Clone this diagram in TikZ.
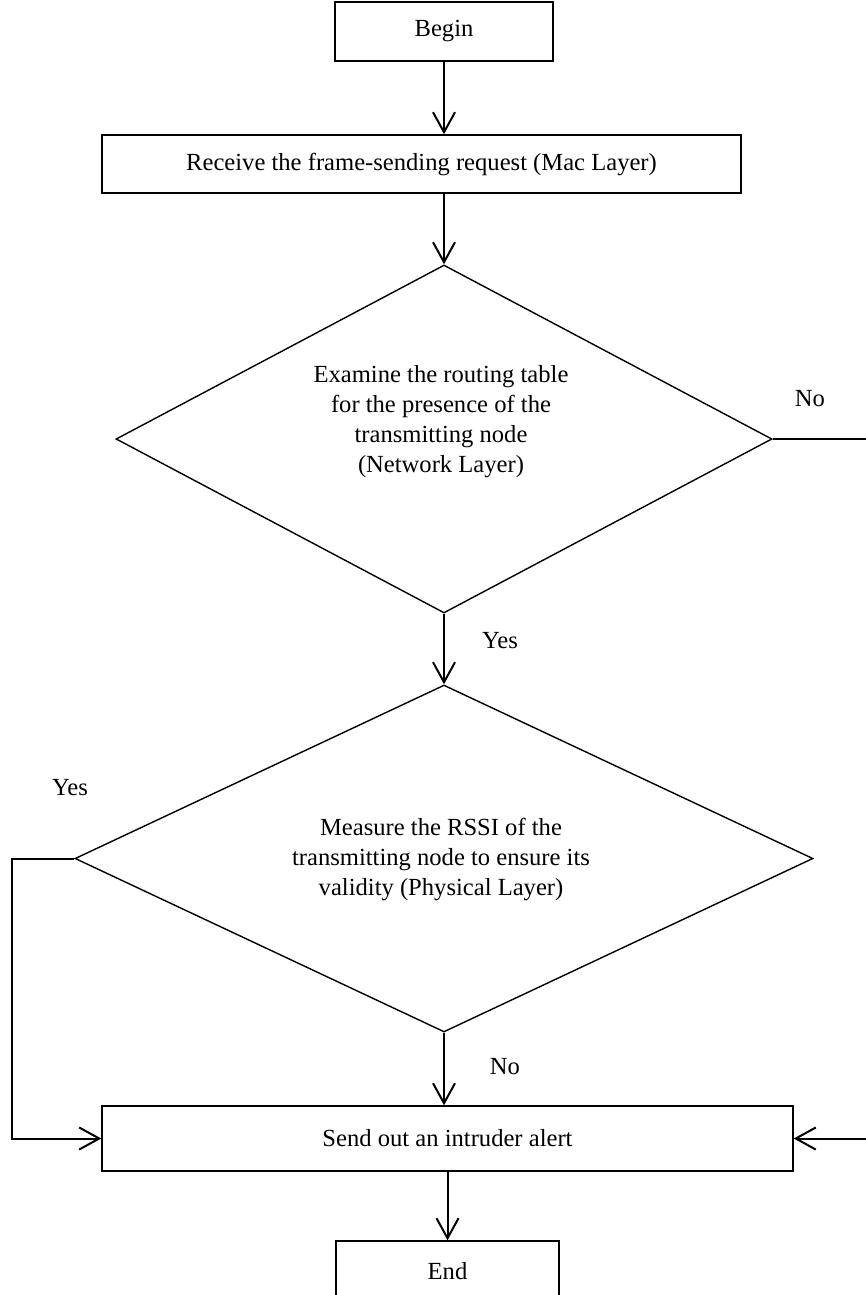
\documentclass[tikz,border=0pt]{standalone}
\usepackage{fontspec}
\setmainfont{Liberation Serif}
\usetikzlibrary{shapes.geometric,arrows.meta}
\begin{document}
\begin{tikzpicture}[x=0.5pt,y=-0.5pt,
  box/.style={draw, line width=0.7pt, rectangle, inner sep=0pt},
  decision/.style={draw, line width=0.7pt, diamond, inner sep=0pt},
  flow/.style={line width=1pt, -{Straight Barb[length=10pt,width=11pt,line width=1pt]}},
  lbl/.style={font=\fontsize{12.3}{15}\selectfont, inner sep=0pt, align=center}]
\path[use as bounding box] (0,0) rectangle (866,1295);
\clip (0,0) rectangle (866,1295);

% process boxes
\node[box, minimum width=109pt, minimum height=29.5pt] (begin) at (444,31.5) {};
\node[lbl] (begintxt) at (begin.center) {Begin};
\node[box, minimum width=319.5pt, minimum height=29pt] (receive) at (421.5,164) {};
\node[lbl] (receivetxt) at (receive.center) {Receive the frame-sending request (Mac Layer)};

% decisions
\node[decision, minimum width=328pt, minimum height=174pt] (d1) at (444,439) {};
\node[lbl] (d1txt) at (441,422) {Examine the routing table\\for the presence of the\\transmitting node\\(Network Layer)};
\node[decision, minimum width=369pt, minimum height=173.5pt] (d2) at (444,858.5) {};
\node[lbl] (d2txt) at (441,859) {Measure the RSSI of the\\transmitting node to ensure its\\validity (Physical Layer)};

% outcome boxes
\node[box, minimum width=345.5pt, minimum height=32.5pt] (send) at (447.5,1138.5) {};
\node[lbl] (sendtxt) at (send.center) {Send out an intruder alert};
\node[box, minimum width=111.5pt, minimum height=35pt] (end) at (447.5,1276) {};
\node[lbl] (endtxt) at (447.5,1271) {End};

% side rails
\coordinate (rr) at (890,0);
\coordinate (ll) at (12,0);

% connectors
\draw[flow] (begin.south) -- (begin.south |- receive.north);
\draw[flow] (begin.south |- receive.south) -- (d1.north);
\draw[flow] (d1.south) -- (d2.north);
\draw[flow] (d2.south) -- (d2.south |- send.north);
\draw[flow] (send.south) -- (end.north);
\draw[flow] (d1.east) -- (d1.east -| rr) |- (send.east);
\draw[flow] (d2.west) -- (d2.west -| ll) |- (send.west);

% branch labels
\node[lbl] (no1) at (810,399) {No};
\node[lbl] (yes1) at (500,641) {Yes};
\node[lbl] (yes2) at (70,788) {Yes};
\node[lbl] (no2) at (505,1067) {No};
\end{tikzpicture}
\end{document}
